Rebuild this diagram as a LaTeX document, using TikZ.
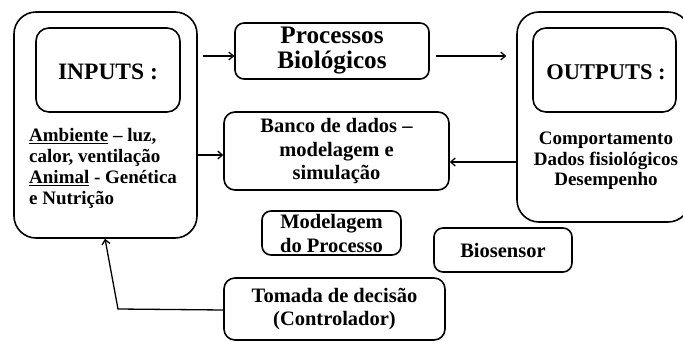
\documentclass[tikz,border=0pt]{standalone}
\usepackage{fontspec}
\setmainfont{Liberation Serif}
\usetikzlibrary{arrows.meta}
\begin{document}
\begin{tikzpicture}[x=1pt,y=-1pt,
  box/.style={draw, line width=1.6pt, rounded corners=9pt, inner sep=0pt, align=center,
    font=\bfseries\fontsize{20.5}{23.5}\selectfont},
  arr/.style={line width=1.3pt, -{Straight Barb[length=4.5pt,width=8pt]}},
  bodytxt/.style={font=\bfseries\fontsize{19}{21}\selectfont, inner sep=0pt},
  titletxt/.style={font=\bfseries\fontsize{23.5}{24}\selectfont, inner sep=0pt}]
\useasboundingbox (0,0) rectangle (683,342);
\clip (0,0) rectangle (683,342);
% INPUTS
\node[box, rounded corners=22pt, minimum width=183pt, minimum height=226pt] (inOuter) at (105.5,125) {};
\node[box, rounded corners=13pt, minimum width=144pt, minimum height=84pt] (inInner) at (108,70) {};
\node[titletxt] (inTitle) at (108,72) {INPUTS :};
\node[bodytxt, align=left, anchor=west] (inText) at (29,168.5)
  {\underline{Ambiente} – luz,\\ calor, ventilação\\ \underline{Animal} - Genética\\ e Nutrição};
% OUTPUTS
\node[box, rounded corners=22pt, minimum width=173pt, minimum height=210pt] (outOuter) at (603.5,117) {};
\node[box, rounded corners=13pt, minimum width=143pt, minimum height=84pt] (outInner) at (604.5,70) {};
\node[titletxt, font=\bfseries\fontsize{22.5}{24}\selectfont] (outTitle) at (606,72) {OUTPUTS :};
\node[bodytxt, align=center, font=\bfseries\fontsize{19}{20.5}\selectfont] (outText) at (606,161)
  {Comportamento\\ Dados fisiológicos\\ Desempenho};
% middle boxes
\node[box, minimum width=194pt, minimum height=56pt, font=\bfseries\fontsize{25.2}{25}\selectfont] (proc) at (332,51) {Processos\\ Biológicos};
\node[box, rounded corners=11pt, minimum width=225pt, minimum height=78pt] (banco) at (336.5,151) {Banco de dados –\\ modelagem e\\ simulação};
\node[box, minimum width=139pt, minimum height=44pt, font=\bfseries\fontsize{20.5}{24}\selectfont] (model) at (331.5,233) {Modelagem\\ do Processo};
\node[box, minimum width=138pt, minimum height=44pt] (bios) at (503,250) {Biosensor};
\node[box, rounded corners=11pt, minimum width=221pt, minimum height=62pt, font=\bfseries\fontsize{20.5}{23}\selectfont] (tomada) at (334.5,309) {Tomada de decisão\\ (Controlador)};
% connectors
\draw[arr] (inOuter.east |- 0,56) ++(5,0) -- (proc.west |- 0,56);
\draw[arr, shorten >=10pt] (proc.east |- 0,56) ++(6,0) -- (outOuter.west |- 0,56);
\draw[arr] (inOuter.east |- 0,155) -- (banco.west |- 0,155);
\draw[arr] (outOuter.west |- 0,162) -- (banco.east |- 0,162);
\coordinate (bend) at (118,309);
\draw[arr] (tomada.west |- 0,310) -- (bend) -- (inOuter.south -| 105,0);
\end{tikzpicture}
\end{document}
